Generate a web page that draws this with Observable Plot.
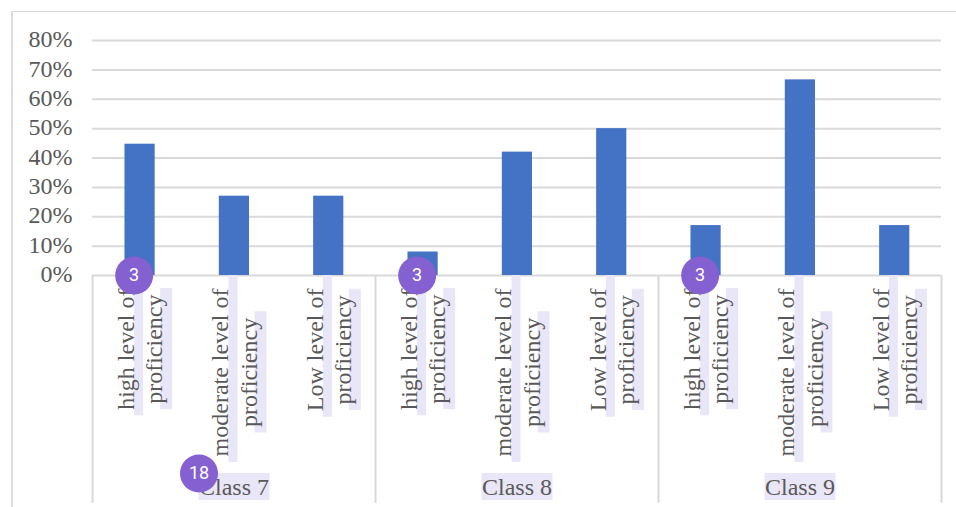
<!DOCTYPE html>
<html>
<head>
<meta charset="utf-8">
<script src="https://cdn.jsdelivr.net/npm/d3@7"></script>
<script src="https://cdn.jsdelivr.net/npm/@observablehq/plot@0.6"></script>
<style>
html,body{margin:0;padding:0;background:#fff;overflow:hidden}
#wrap{position:relative;width:956px;height:507px}
#border{position:absolute;left:11px;top:11px;right:-4px;bottom:-4px;border-left:2px solid #dcdcdc;border-top:1px solid #dcdcdc}
#wrap svg{position:absolute;left:0;top:0;background:transparent}
</style>
</head>
<body>
<div id="wrap"><div id="border"></div></div>
<script>
const classes = ["Class 7", "Class 8", "Class 9"];
const levelFirstLines = ["high level of", "moderate level of", "Low level of"];
const levelSecondLine = "proficiency";
const class7Values = [44.7, 27, 27];
const class8Values = [8, 42, 50];
const class9Values = [17, 66.6, 17];
const seriesValues = [class7Values, class8Values, class9Values];
const yTicks = [0, 10, 20, 30, 40, 50, 60, 70, 80];
const classBadge = 3;
const groupBadge = 18;

const font = "'Liberation Serif', serif";
const textColor = "#595959";
const lineColor = "#d9d9d9";
const lilac = "#e9e6f7";
const blue = "#4472c4";
const purple = "#8560d1";
const fontSize = 24;
const pxPerUnit = (275 - 40) / 80;

const ctx = document.createElement("canvas").getContext("2d");
ctx.font = `${fontSize}px 'Liberation Serif'`;
const widthOf = s => ctx.measureText(s).width;
const below = px => -px / pxPerUnit;

const rows = classes.flatMap((c, i) => levelFirstLines.map((l, j) => {
  const first = widthOf(l), second = widthOf(levelSecondLine);
  const block = Math.max(first, second);
  const centre = 13 + block / 2;
  return {
    key: `${c}|${l}`, cls: c, line1: l, line2: levelSecondLine, value: seriesValues[i][j],
    first: j === 0, middle: j === 1,
    centre: below(centre),
    h1End: below(centre + first / 2 + 6),
    h2Start: below(centre - second / 2 - 6),
    h2End: below(centre + second / 2 + 6)
  };
}));
const firsts = rows.filter(d => d.first);
const middles = rows.filter(d => d.middle);
const lastRow = rows.slice(-1);

const chart = Plot.plot({
  width: 956, height: 507,
  marginLeft: 92, marginRight: 15, marginTop: 40, marginBottom: 232,
  style: {fontFamily: font, background: "transparent"},
  x: {domain: rows.map(d => d.key), paddingInner: 0.68, paddingOuter: 0.34, round: false, axis: null},
  y: {domain: [0, 80], axis: null},
  marks: [
    Plot.gridY(yTicks, {stroke: lineColor, strokeOpacity: 1, strokeWidth: 2}),
    Plot.axisY(yTicks, {tickSize: 0, tickPadding: 20, tickFormat: d => d + "%", fontSize, dy: -1, fill: textColor, fontFamily: font, label: null}),
    Plot.barY(rows, {x: "key", y: "value", fill: blue, dx: 0.4}),
    Plot.ruleX(firsts, {x: "key", dx: -47.17, y1: 0, y2: below(228), stroke: lineColor, strokeWidth: 2}),
    Plot.ruleX(lastRow, {x: "key", dx: 47.17, y1: 0, y2: below(228), stroke: lineColor, strokeWidth: 2}),
    Plot.ruleX(rows, {x: "key", dx: -1, y1: 0, y2: "h1End", stroke: lilac, strokeWidth: 9}),
    Plot.ruleX(rows, {x: "key", dx: 26.5, y1: "h2Start", y2: "h2End", stroke: lilac, strokeWidth: 12}),
    Plot.ruleX(middles, {x: "key", y1: below(198), y2: below(225), stroke: lilac, strokeWidth: 71}),
    Plot.text(rows, {x: "key", y: "centre", text: "line1", dx: -13.5, rotate: -90, fontSize, fill: textColor, fontFamily: font}),
    Plot.text(rows, {x: "key", y: "centre", text: "line2", dx: 15, rotate: -90, fontSize, fill: textColor, fontFamily: font}),
    Plot.text(middles, {x: "key", y: 0, dy: 212, text: "cls", fontSize, fill: textColor, fontFamily: font}),
    Plot.dot(firsts, {x: "key", y: 0, dx: -5.5, r: 19, fill: purple}),
    Plot.text(firsts, {x: "key", y: 0, dx: -5.5, text: () => classBadge, fill: "#fff", fontSize: 18, fontFamily: "Roboto"}),
    Plot.dot(middles.slice(0, 1), {x: "key", y: 0, dx: -35, dy: 198, r: 19, fill: purple}),
    Plot.text(middles.slice(0, 1), {x: "key", y: 0, dx: -35, dy: 198, text: () => groupBadge, fill: "#fff", fontSize: 18, fontFamily: "Roboto"})
  ]
});
document.getElementById("wrap").appendChild(chart);
</script>
</body>
</html>
